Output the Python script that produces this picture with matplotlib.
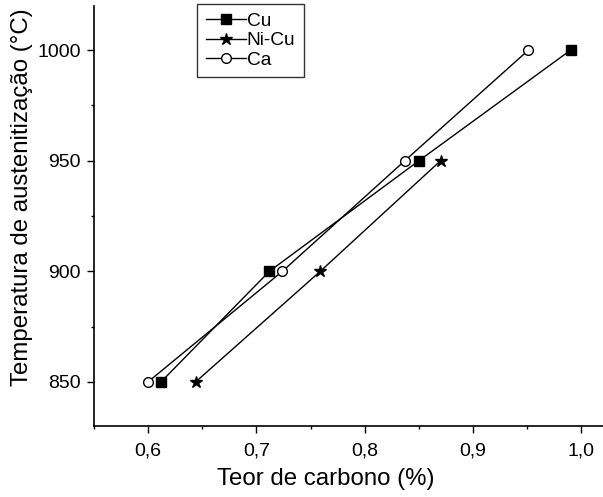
import matplotlib
matplotlib.use("Agg")
import matplotlib.pyplot as plt
from matplotlib.ticker import MultipleLocator

plt.rcParams['font.family'] = ['Liberation Sans', 'DejaVu Sans']

temps_cu = [850, 900, 950, 1000]
carbon_cu = [0.612, 0.712, 0.850, 0.990]
temps_nicu = [850, 900, 950]
carbon_nicu = [0.644, 0.759, 0.870]
temps_ca = [850, 900, 950, 1000]
carbon_ca = [0.600, 0.724, 0.837, 0.951]

xticks = [0.6, 0.7, 0.8, 0.9, 1.0]
xticklabels = ['0,6', '0,7', '0,8', '0,9', '1,0']
yticks = [850, 900, 950, 1000]

fig = plt.figure(figsize=(6.03, 4.97), dpi=100)
ax = fig.add_axes([94/603, 71/497, 509/603, 420/497])

ax.plot(carbon_cu, temps_cu, color='black', lw=1, marker='s', ms=6.5,
        mfc='black', mec='black', label='Cu')
ax.plot(carbon_nicu, temps_nicu, color='black', lw=1, marker='*', ms=9,
        mfc='black', mec='black', label='Ni-Cu')
ax.plot(carbon_ca, temps_ca, color='black', lw=1, marker='o', ms=7,
        mfc='white', mec='black', mew=1, label='Ca')

ax.set_xlim(0.55, 1.02)
ax.set_ylim(830, 1020)
ax.set_xticks(xticks)
ax.set_xticklabels(xticklabels)
ax.set_yticks(yticks)
ax.xaxis.set_minor_locator(MultipleLocator(0.05))
ax.yaxis.set_minor_locator(MultipleLocator(25))
ax.tick_params(which='major', direction='out', length=5, width=1, labelsize=14,
               colors='black')
ax.tick_params(axis='x', which='major', pad=7)
ax.tick_params(axis='y', which='major', pad=4.5)
ax.tick_params(which='minor', direction='out', length=2.5, width=1)
ax.spines['top'].set_visible(False)
ax.spines['right'].set_visible(False)
for s in ['left', 'bottom']:
    ax.spines[s].set_linewidth(1.2)

ax.set_xlabel('Teor de carbono (%)', fontsize=17.3, labelpad=6)
ax.set_ylabel('Temperatura de austenitização (°C)', fontsize=17.3, labelpad=3)
ax.xaxis.label.set_x(0.456)
ax.yaxis.label.set_y(0.545)

leg = ax.legend(loc='upper left', bbox_to_anchor=(197/603, 1 - 4/497),
                bbox_transform=fig.transFigure, frameon=True, fancybox=False,
                edgecolor='black', fontsize=13.8, handlelength=2.1,
                handletextpad=0.05, borderpad=0.45, labelspacing=0.1,
                borderaxespad=0)
leg.get_frame().set_linewidth(1)

fig.savefig('out.png', dpi=100)
